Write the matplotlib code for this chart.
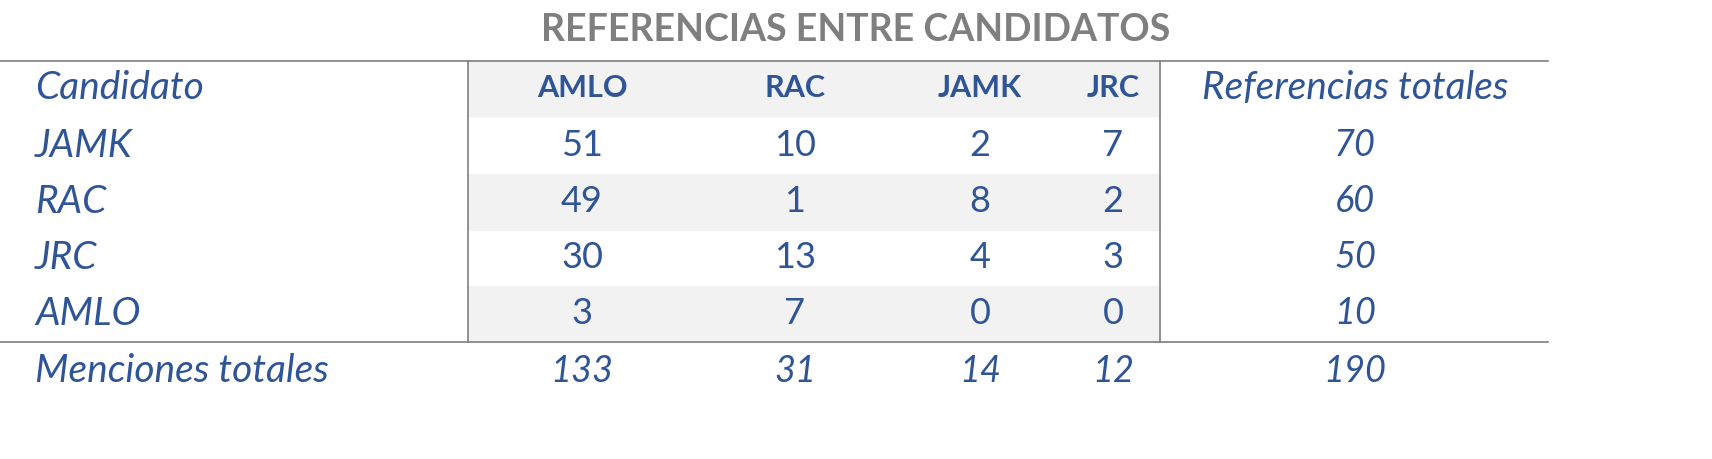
import matplotlib.pyplot as plt
from matplotlib.patches import Rectangle

plt.rcParams['font.family'] = ['Lato', 'DejaVu Sans']

titulo = "REFERENCIAS ENTRE CANDIDATOS"
columnas = ["AMLO", "RAC", "JAMK", "JRC"]
filas = ["JAMK", "RAC", "JRC", "AMLO"]
valores = [[51, 10, 2, 7],
           [49, 1, 8, 2],
           [30, 13, 4, 3],
           [3, 7, 0, 0]]
ref_totales = [70, 60, 50, 10]
menciones = [133, 31, 14, 12]
total = 190

azul = '#2F5597'
gris = '#7F7F7F'
sombra = '#F2F2F2'

fig = plt.figure(figsize=(17.12, 4.59), dpi=100)
ax = fig.add_axes([0, 0, 1, 1])
ax.set_xlim(0, 1712)
ax.set_ylim(459, 0)
ax.axis('off')

col_x = [582, 795, 980, 1113]
tot_x = 1355
row_y = [146, 202, 258, 314]
head_y = 88
foot_y = 371
h = 56

# sombreado alternado en la zona central
for yc in [head_y, row_y[1], row_y[3]]:
    ax.add_patch(Rectangle((468, yc - h / 2), 692, h, color=sombra, zorder=0))

ax.text(856, 30, titulo, ha='center', va='center', fontsize=27,
        fontweight='bold', color=gris)
ax.plot([0, 1548], [61, 61], color=gris, lw=1.2)
ax.plot([0, 1548], [342, 342], color=gris, lw=1.2)
ax.plot([468, 468], [61, 342], color=gris, lw=1.2)
ax.plot([1160, 1160], [61, 342], color=gris, lw=1.2)

ax.text(35, head_y, "Candidato", ha='left', va='center', fontsize=28,
        style='italic', color=azul)
for x, c in zip(col_x, columnas):
    ax.text(x, head_y, c, ha='center', va='center', fontsize=22,
            fontweight='bold', color=azul)
ax.text(tot_x, head_y, "Referencias totales", ha='center', va='center',
        fontsize=28, style='italic', color=azul)

for y, nombre, fila, t in zip(row_y, filas, valores, ref_totales):
    ax.text(35, y, nombre, ha='left', va='center', fontsize=28,
            style='italic', color=azul)
    for x, v in zip(col_x, fila):
        ax.text(x, y, str(v), ha='center', va='center', fontsize=26, color=azul)
    ax.text(tot_x, y, str(t), ha='center', va='center', fontsize=26,
            style='italic', color=azul)

ax.text(35, foot_y, "Menciones totales", ha='left', va='center', fontsize=28,
        style='italic', color=azul)
for x, m in zip(col_x, menciones):
    ax.text(x, foot_y, str(m), ha='center', va='center', fontsize=26,
            style='italic', color=azul)
ax.text(tot_x, foot_y, str(total), ha='center', va='center', fontsize=26,
        style='italic', color=azul)

plt.savefig('out.png', dpi=100)
